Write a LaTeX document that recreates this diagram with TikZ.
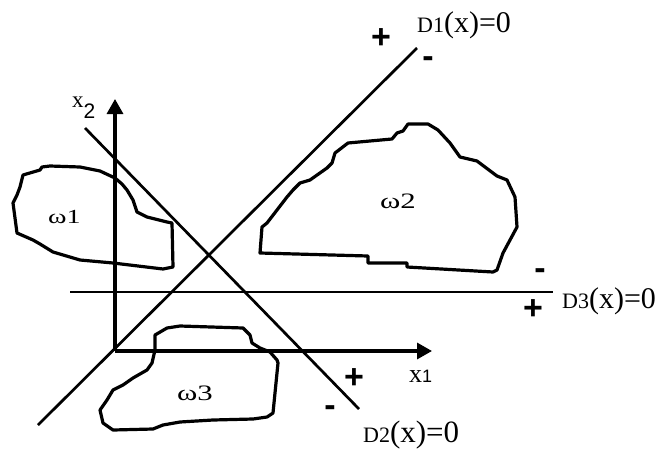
\documentclass[tikz,border=0pt]{standalone}
\usepackage{fontspec}
\setmainfont{Liberation Serif}
\setsansfont{Liberation Sans}
\usetikzlibrary{arrows.meta}
\newcommand{\fsz}[1]{\fontsize{#1}{#1}\selectfont}
\newcommand{\wide}[1]{\scalebox{1.4}[1]{#1}}
\begin{document}
\begin{tikzpicture}[x=1pt,y=-1pt,
  boundary/.style={line width=2.7pt},
  region/.style={line width=3.2pt,line join=round},
  axis/.style={line width=3.2pt,-{Triangle[width=16pt,length=15pt]}},
  sign/.style={font=\sffamily\bfseries\fsz{34}},
  lbl/.style={inner sep=0pt,anchor=base west}]
\useasboundingbox (0,0) rectangle (664,448);
% axes
\coordinate (O) at (115,351);
\coordinate (X1tip) at (432,351);
\coordinate (X2tip) at (115,99);
\draw[axis] (O) -- (X1tip);
\draw[axis] (O) -- (X2tip);
\node[lbl] (x1) at (409,382) {\fsz{26}x\sffamily\fsz{18}1};
\node[lbl] (x2) at (72,107) {\fsz{23}x\raisebox{-11pt}{\sffamily\fsz{21}2}};
% decision lines
\coordinate (D1a) at (38,425);
\coordinate (D1b) at (417,48);
\coordinate (D2a) at (85,128);
\coordinate (D2b) at (359,409);
\coordinate (D3a) at (70,292);
\coordinate (D3b) at (553,292);
\draw[boundary] (D1a) -- (D1b);
\draw[boundary] (D2a) -- (D2b);
\draw[boundary] (D3a) -- (D3b);
\node[lbl] (D1) at (417,32) {\fsz{22}D1\fsz{30}(x)=0};
\node[lbl] (D2) at (363,442) {\fsz{22}D2\fsz{31}(x)=0};
\node[lbl] (D3) at (562,308) {\fsz{22}D3\fsz{30}(x)=0};
\node[sign] (p1) at (381,39) {+};
\node[sign] (m1) at (428,62) {-};
\node[sign] (p2) at (354,379) {+};
\node[sign] (m2) at (330,411) {-};
\node[sign] (p3) at (533,310) {+};
\node[sign] (m3) at (540,274) {-};
% regions
\draw[region] (23,175) -- (40,170) -- (42,167) -- (50,166) -- (80,167) -- (100,171) -- (115,178)
  -- (122,184) -- (127,190) -- (133,200) -- (137,212) -- (147,217) -- (167,222) -- (172,223) -- (173,267)
  -- (163,269) -- (113,263) -- (80,260) -- (53,252) -- (40,244) -- (33,240) -- (17,233)
  -- (13,203) -- (17,195) -- (20,187) -- cycle;
\draw[region] (262,227) -- (267,223) -- (287,197) -- (293,190) -- (300,183) -- (310,180)
  -- (327,168) -- (332,163) -- (335,153) -- (348,143) -- (392,139) -- (397,133)
  -- (403,131) -- (408,124) -- (428,124) -- (438,130) -- (450,143) -- (460,157)
  -- (477,161) -- (497,176) -- (507,180) -- (515,197) -- (517,227) -- (510,240)
  -- (503,253) -- (497,270) -- (493,272) -- (407,267) -- (407,263) -- (368,263)
  -- (368,256) -- (260,253) -- cycle;
\draw[region] (155,335) -- (167,328) -- (180,326) -- (243,328) -- (250,335) -- (252,343)
  -- (260,348) -- (270,352) -- (277,360) -- (278,363) -- (273,413) -- (267,417)
  -- (253,419) -- (213,420) -- (180,422) -- (163,425) -- (153,429) -- (113,430)
  -- (103,423) -- (100,410) -- (107,400) -- (113,390) -- (123,385) -- (133,378)
  -- (147,370) -- (152,363) -- (155,350) -- cycle;
\node[lbl] (w1) at (48,223) {\wide{\fsz{20}ω1}};
\node[lbl] (w2) at (380,208) {\wide{\fsz{22}ω2}};
\node[lbl] (w3) at (177,400) {\wide{\fsz{22}ω3}};
\end{tikzpicture}
\end{document}
